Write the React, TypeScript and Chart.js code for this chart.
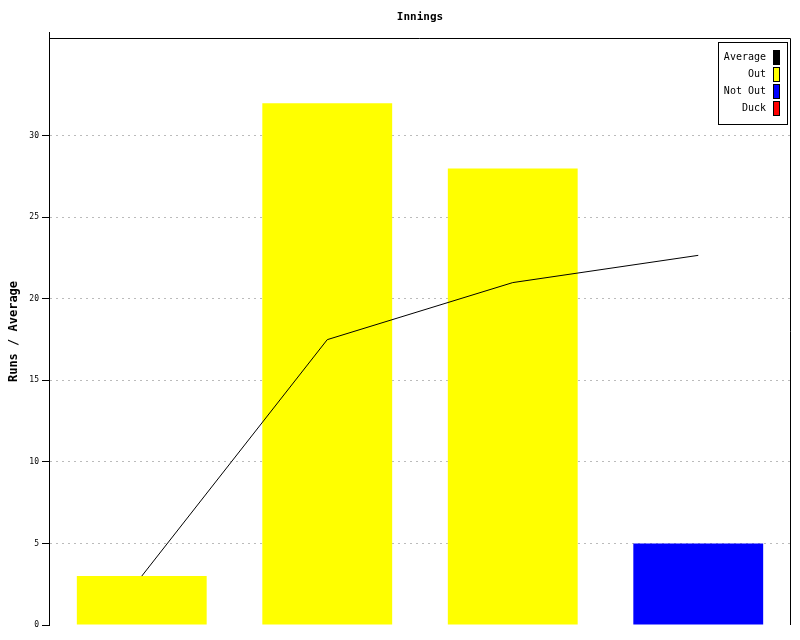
import React, { useEffect, useRef } from "react";
import { Chart, registerables } from "chart.js";

Chart.register(...registerables);

const categories = ["1", "2", "3", "4"];
const runs = [3, 32, 28, 5];
const notOut = [false, false, false, true];
const averages = [3, 17.5, 21, 22.67];
const yTicks = [0, 5, 10, 15, 20, 25, 30];
const legendLabels = ["Average", "Out", "Not Out", "Duck"];
const legendColors = ["#000000", "#ffff00", "#0000ff", "#ff0000"];

const FONT = "'DejaVu Sans Mono', monospace";

const framePlugin = {
  id: "frame",
  afterDraw(chart: any) {
    const { ctx, chartArea } = chart;
    const { left, right, top, bottom } = chartArea;
    ctx.save();
    ctx.strokeStyle = "#000";
    ctx.lineWidth = 1;
    ctx.beginPath();
    ctx.moveTo(left, top + 0.5);
    ctx.lineTo(right - 0.5, top + 0.5);
    ctx.lineTo(right - 0.5, bottom);
    ctx.moveTo(left + 0.5, top);
    ctx.lineTo(left + 0.5, top - 6);
    ctx.stroke();
    // title
    ctx.fillStyle = "#000";
    ctx.font = `bold 11px ${FONT}`;
    ctx.textAlign = "center";
    ctx.textBaseline = "middle";
    ctx.fillText("Innings", (left + right) / 2, 17);
    // legend
    const bx = 718;
    const by = top + 4;
    const bw = 69;
    const bh = 82;
    ctx.fillStyle = "#fff";
    ctx.fillRect(bx, by, bw, bh);
    ctx.strokeRect(bx + 0.5, by + 0.5, bw, bh);
    ctx.font = `10px ${FONT}`;
    ctx.textAlign = "right";
    legendLabels.forEach((lab, i) => {
      const cy = by + 15 + i * 17;
      ctx.fillStyle = "#000";
      ctx.fillText(lab, bx + 48, cy);
      ctx.fillStyle = legendColors[i];
      ctx.fillRect(bx + 55, cy - 7, 7, 15);
      ctx.strokeStyle = "#000";
      ctx.strokeRect(bx + 55.5, cy - 6.5, 6, 14);
    });
    ctx.restore();
  },
};

export default function App() {
  const ref = useRef<HTMLCanvasElement>(null);
  useEffect(() => {
    document.body.style.margin = "0";
    const chart = new Chart(ref.current!, {
      type: "bar",
      data: {
        labels: categories,
        datasets: [
          {
            type: "line",
            label: "Average",
            data: averages,
            borderColor: "#000",
            borderWidth: 1,
            pointRadius: 0,
            tension: 0,
            order: 0,
          } as any,
          {
            type: "bar",
            label: "Runs",
            data: runs,
            backgroundColor: notOut.map((n) => (n ? "#0000ff" : "#ffff00")),
            barPercentage: 0.7,
            categoryPercentage: 1,
            order: 1,
          },
        ],
      },
      plugins: [framePlugin],
      options: {
        animation: false,
        responsive: false,
        layout: { padding: { top: 38, right: 9, bottom: 15, left: 7 } },
        plugins: {
          legend: { display: false },
          title: { display: false },
          tooltip: { enabled: false },
        },
        scales: {
          x: { display: false },
          y: {
            min: 0,
            max: 36,
            afterBuildTicks: (scale: any) => {
              scale.ticks = yTicks.map((v) => ({ value: v }));
            },
            afterFit: (scale: any) => {
              scale.width = 42;
            },
            title: {
              display: true,
              text: "Runs / Average",
              color: "#000",
              font: { family: FONT, size: 12, weight: "bold" },
              padding: 0,
            },
            ticks: {
              color: "#000",
              font: { family: FONT, size: 8 },
              padding: 3,
            },
            grid: {
              color: (c: any) => (c.tick && c.tick.value === 0 ? "rgba(0,0,0,0)" : "#bbbbbb"),
              tickColor: "#000",
              tickLength: 7,
              drawTicks: true,
            },
            border: { display: true, color: "#000", width: 1, dash: [2, 4] },
          },
        },
      } as any,
    });
    return () => chart.destroy();
  }, []);
  return (
    <div style={{ position: "absolute", left: 0, top: 0, width: 800, height: 640 }}>
      <canvas ref={ref} width={800} height={640} />
    </div>
  );
}
